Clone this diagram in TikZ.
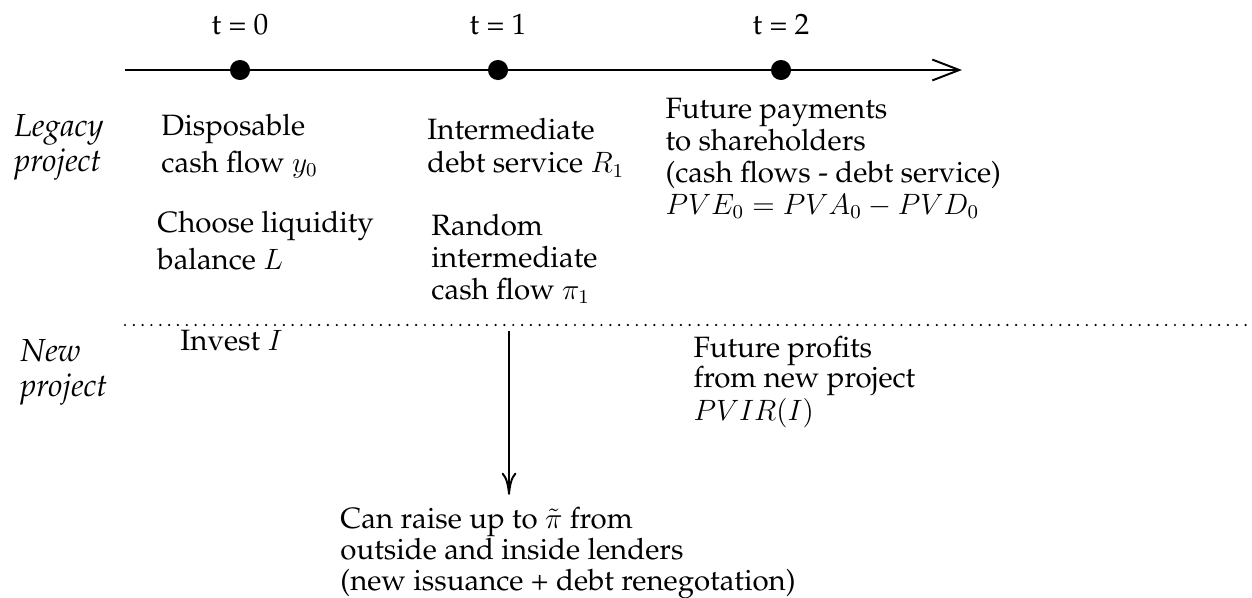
\documentclass[tikz,border=0pt]{standalone}
\usepackage[T1]{fontenc}
\usepackage{palatino}
\usepackage{amsmath}
\usetikzlibrary{arrows.meta,positioning}

\tikzset{
    txt/.style={anchor=north west, inner sep=0pt, align=left, font=\fontsize{12}{13}\selectfont},
    loose/.style={txt, font=\fontsize{12}{15}\selectfont},
    side/.style={txt, font=\fontsize{13}{14.3}\selectfont\itshape},
    tdot/.style={circle, fill=black, inner sep=0pt, minimum size=8.2pt},
    tlabel/.style={anchor=base, inner sep=0pt, font=\fontsize{12}{13}\selectfont},
    axis/.style={line width=0.8pt, -{Straight Barb[length=11pt,width=8.5pt,line width=0.8pt]}},
    flow/.style={line width=0.8pt, -{To[length=9pt,width=6pt,line width=0.8pt]}},
    sep/.style={line width=1pt, line cap=round, dash pattern=on 0pt off 3.6pt}
}

\begin{document}
\begin{tikzpicture}[x=0.408pt, y=-0.408pt]
    \useasboundingbox (0,0) rectangle (1252,597);

    % time line
    \coordinate (tstart) at (125,70);
    \coordinate (tend) at (962,70);
    \draw[axis] (tstart) -- (tend);
    \node[tdot] (d0) at (240,70) {};
    \node[tdot] (d1) at (498,70) {};
    \node[tdot] (d2) at (781,70) {};
    \node[tlabel] (t0) at (240,34) {t = 0};
    \node[tlabel] (t1) at (498,34) {t = 1};
    \node[tlabel] (t2) at (781,34) {t = 2};

    % legacy project
    \node[side] (legacy) at (14,114) {Legacy\\project};
    \node[loose] (disp) at (161,114) {Disposable\\cash flow $y_0$};
    \node[loose] (choose) at (157,211) {Choose liquidity\\balance $L$};
    \node[txt, font=\fontsize{12}{13.5}\selectfont] (debt) at (427,118) {Intermediate\\debt service $R_1$};
    \node[txt] (random) at (431,214) {Random\\intermediate\\cash flow $\pi_1$};
    \node[txt] (payout) at (665,98) {Future payments\\to shareholders\\(cash flows - debt service)\\$PVE_0 = PVA_0 - PVD_0$};

    % separator
    \coordinate (sepL) at (125,325);
    \coordinate (sepR) at (1252,325);
    \draw[sep] (sepL) -- (sepR);

    % new project
    \node[side] (newp) at (20,339) {New\\project};
    \node[txt] (invest) at (180,330) {Invest $I$};
    \node[txt, font=\fontsize{12}{12.2}\selectfont] (profits) at (693,336) {Future profits\\from new project\\$PVIR(I)$};
    \node[txt, font=\fontsize{12}{12.6}\selectfont] (raise) at (340,507) {Can raise up to $\tilde{\pi}$ from\\outside and inside lenders\\(new issuance + debt renegotation)};

    \coordinate (split) at (509,331);
    \draw[flow, shorten >=5pt] (split) -- (split |- raise.north);
\end{tikzpicture}
\end{document}
